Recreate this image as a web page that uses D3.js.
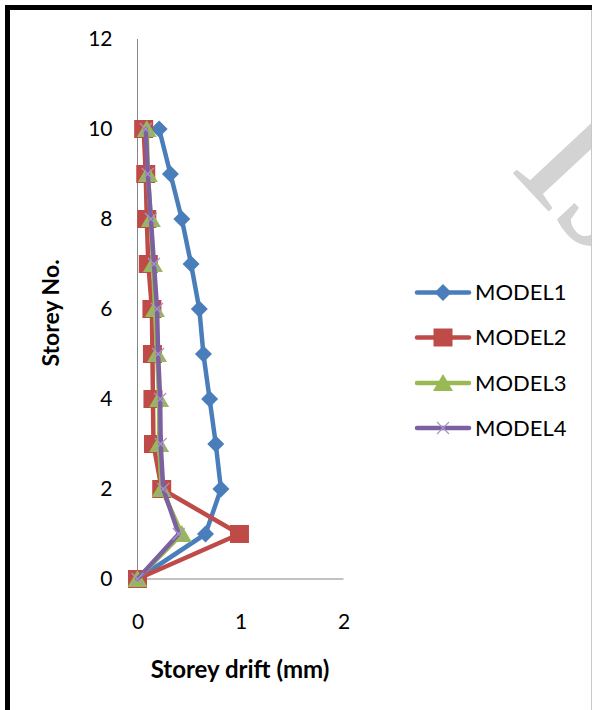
<!DOCTYPE html>
<html>
<head>
<meta charset="utf-8">
<script src="https://cdn.jsdelivr.net/npm/d3@7"></script>
<style>
  html, body { margin: 0; padding: 0; background: #fff; }
  svg { display: block; }
</style>
</head>
<body>
<svg id="chart" width="592" height="710"></svg>
<script>
// Storey drift (mm) per storey for each model
const storeys = [0, 1, 2, 3, 4, 5, 6, 7, 8, 9, 10];
const model1 = [0, 0.66, 0.81, 0.76, 0.70, 0.64, 0.60, 0.52, 0.43, 0.32, 0.21];
const model2 = [0, 0.99, 0.235, 0.155, 0.15, 0.145, 0.14, 0.105, 0.09, 0.08, 0.06];
const model3 = [0, 0.43, 0.235, 0.21, 0.21, 0.19, 0.17, 0.15, 0.13, 0.10, 0.09];
const model4 = [0, 0.40, 0.25, 0.225, 0.22, 0.20, 0.19, 0.16, 0.13, 0.10, 0.08];
const seriesNames = ["MODEL1", "MODEL2", "MODEL3", "MODEL4"];
const xTicks = [0, 1, 2];
const yTicks = [0, 2, 4, 6, 8, 10, 12];

const colors = ["#4A7EBB", "#BE4B48", "#98B954", "#7D60A0"];
const markers = ["diamond", "square", "triangle", "cross"];
const seriesValues = [model1, model2, model3, model4];

const svg = d3.select("#chart");
const font = "Lato, 'Open Sans', sans-serif";

// Page frame
svg.append("rect").attr("x", 0).attr("y", 0).attr("width", 592).attr("height", 710).attr("fill", "#fff");
svg.append("line").attr("x1", 5).attr("x2", 592).attr("y1", 7.5).attr("y2", 7.5)
  .attr("stroke", "#000").attr("stroke-width", 5);
svg.append("line").attr("x1", 7.5).attr("x2", 7.5).attr("y1", 5).attr("y2", 710)
  .attr("stroke", "#000").attr("stroke-width", 5);
svg.append("line").attr("x1", 591.5).attr("x2", 591.5).attr("y1", 10).attr("y2", 710)
  .attr("stroke", "#c8c8c8").attr("stroke-width", 1);

// Watermark in the page corner, clipped by the frame
svg.append("clipPath").attr("id", "page")
  .append("rect").attr("x", 10).attr("y", 10).attr("width", 581).attr("height", 700);
svg.append("g").attr("clip-path", "url(#page)")
  .append("text")
  .attr("transform", "translate(508,168) rotate(47)")
  .attr("font-family", "'Liberation Serif', 'DejaVu Serif', serif")
  .attr("font-size", 200)
  .attr("fill", "#c4c4c4")
  .attr("fill-opacity", 0.75)
  .text("IJ");

const x = d3.scaleLinear().domain([0, 2]).range([137.5, 343.5]);
const y = d3.scaleLinear().domain([0, 12]).range([579, 39]);

// Axes
const xAxis = d3.axisBottom(x).tickValues(xTicks).tickSize(0).tickPadding(35).tickFormat(d3.format("d"));
const yAxis = d3.axisLeft(y).tickValues(yTicks).tickSize(0).tickPadding(25).tickFormat(d3.format("d"));

const gx = svg.append("g").attr("transform", `translate(0,${y(0)})`).call(xAxis);
const gy = svg.append("g").attr("transform", `translate(${x(0)},0)`).call(yAxis);
[gx, gy].forEach(g => {
  g.select(".domain").attr("stroke", "#868686").attr("stroke-width", 1);
  g.selectAll("text").attr("font-family", font).attr("font-size", 21).attr("fill", "#000");
});
gx.select(".domain").attr("d", `M${x(0)},0H${x(2)}`);
gy.select(".domain").attr("d", `M0,${y(12)}V${y(0)}`);

// Axis titles
svg.append("text")
  .attr("x", 240).attr("y", 678)
  .attr("text-anchor", "middle")
  .attr("font-family", font).attr("font-weight", "bold").attr("font-size", 24)
  .text("Storey drift (mm)");
svg.append("text")
  .attr("transform", "translate(59,313) rotate(-90)")
  .attr("text-anchor", "middle")
  .attr("font-family", font).attr("font-weight", "bold").attr("font-size", 23)
  .text("Storey No.");

// Marker shapes
function markerPath(type) {
  switch (type) {
    case "diamond": return "M0,-8.5L8.5,0L0,8.5L-8.5,0Z";
    case "square": return "M-9.5,-9L9.5,-9L9.5,9L-9.5,9Z";
    case "triangle": return "M0,-9L10,8L-10,8Z";
    case "cross": return "M-6,-6L6,6M-6,6L6,-6";
  }
}
function drawMarker(g, type, color) {
  const p = g.append("path").attr("d", markerPath(type));
  if (type === "cross") {
    p.attr("fill", "none").attr("stroke", "#A795CB").attr("stroke-width", 1.2);
  } else {
    p.attr("fill", color).attr("stroke", "none");
  }
}

const line = d3.line().x(d => x(d.v)).y(d => y(d.s));
const plot = svg.append("g");

seriesValues.forEach((vals, i) => {
  const data = storeys.map((s, k) => ({ s, v: vals[k] }));
  const g = plot.append("g");
  g.append("path").datum(data).attr("d", line)
    .attr("fill", "none").attr("stroke", colors[i])
    .attr("stroke-width", 4.5).attr("stroke-linejoin", "round").attr("stroke-linecap", "round");
  data.forEach(d => {
    const mg = g.append("g").attr("transform", `translate(${x(d.v)},${y(d.s)})`);
    drawMarker(mg, markers[i], colors[i]);
  });
});

// Legend
const legendY = [292.5, 337.5, 383, 428];
const legend = svg.append("g");
seriesNames.forEach((name, i) => {
  const g = legend.append("g").attr("transform", `translate(0,${legendY[i]})`);
  g.append("line").attr("x1", 417).attr("x2", 469).attr("y1", 0).attr("y2", 0)
    .attr("stroke", colors[i]).attr("stroke-width", 4.5).attr("stroke-linecap", "round");
  const mg = g.append("g").attr("transform", "translate(443,0)");
  drawMarker(mg, markers[i], colors[i]);
  g.append("text").attr("x", 475).attr("y", 0).attr("dy", "0.36em")
    .attr("font-family", font).attr("font-size", 22).attr("fill", "#000")
    .text(name);
});
</script>
</body>
</html>
